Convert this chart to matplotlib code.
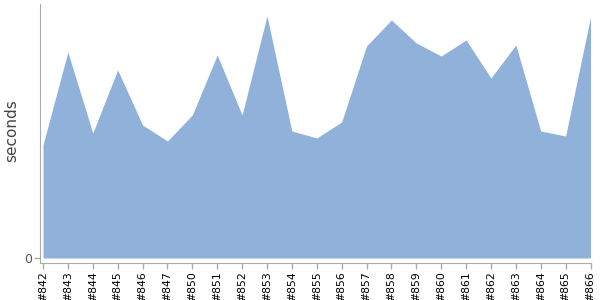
import matplotlib
matplotlib.use('Agg')
import matplotlib.pyplot as plt

# Build labels and durations
builds = ['#842', '#843', '#844', '#845', '#846', '#847', '#850', '#851', '#852',
          '#853', '#854', '#855', '#856', '#857', '#858', '#859', '#860', '#861',
          '#862', '#863', '#864', '#865', '#866']
seconds = [113, 206, 125, 188, 133, 117, 143, 203, 143,
           242, 127, 120, 136, 212, 238, 215, 202, 218,
           180, 213, 127, 122, 241]

x = list(range(len(builds)))

fig = plt.figure(figsize=(6, 3), dpi=100)
ax = fig.add_axes([40 / 600, 37 / 300, 551 / 600, 259 / 300])

# Area fill
ax.fill_between(x, seconds, 0, color='#8fb1da', linewidth=0)

ax.set_xlim(-0.12, len(builds) - 1 + 0.02)
ax.set_ylim(-5, 254)

ax.set_xticks(x)
ax.set_xticklabels(builds, rotation=90, fontsize=7.8, color='black')
ax.set_yticks([0])
ax.set_yticklabels(['0'], fontsize=9, color='#555555')
ax.set_ylabel('seconds', fontsize=11, color='#444444')
ax.yaxis.set_label_coords(-0.037, 0.51)

for side in ['top', 'right']:
    ax.spines[side].set_visible(False)
for side in ['left', 'bottom']:
    ax.spines[side].set_color('#aaaaaa')
ax.tick_params(axis='both', colors='#aaaaaa', length=4, width=1)
ax.tick_params(axis='x', labelcolor='black', pad=2)
ax.tick_params(axis='y', labelcolor='#555555', pad=2)

fig.savefig('out.png', dpi=100)
